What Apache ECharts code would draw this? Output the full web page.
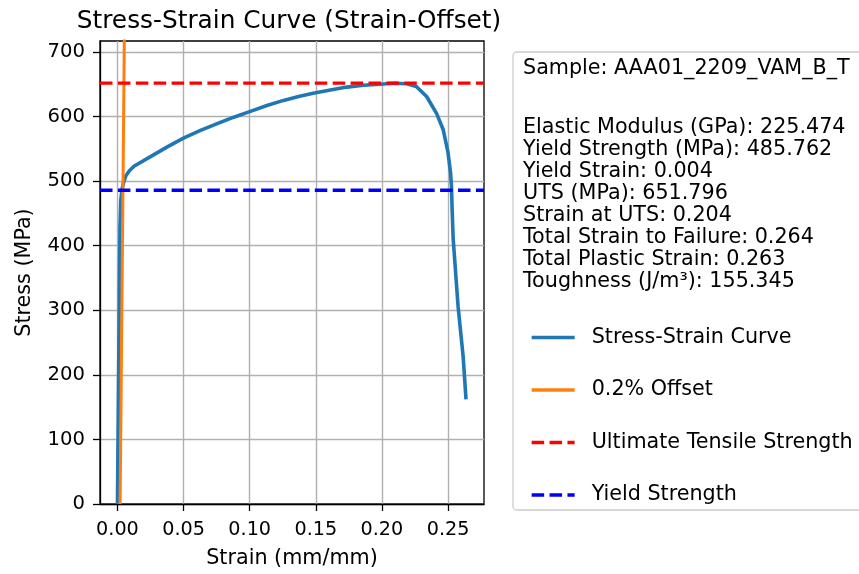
<!DOCTYPE html>
<html>
<head>
<meta charset="utf-8">
<script src="https://cdn.jsdelivr.net/npm/echarts@6/dist/echarts.min.js"></script>
<style>
html,body{margin:0;padding:0;background:#fff;}
#chart{width:859px;height:574px;}
</style>
</head>
<body>
<div id="chart"></div>
<script>
// ---- data ----
const strain = [0, 0.0010, 0.0019, 0.0025, 0.0035, 0.0045, 0.0063, 0.0090, 0.0125, 0.025, 0.0377, 0.0503, 0.0628, 0.0754, 0.088, 0.1005, 0.113, 0.1256, 0.137, 0.148, 0.161, 0.1735, 0.186, 0.1986, 0.209, 0.2187, 0.226, 0.2338, 0.2413, 0.2463, 0.25, 0.2519, 0.2526, 0.2531, 0.2539, 0.2576, 0.2614, 0.2636];
const stress = [0, 225, 430, 470, 488, 497, 508, 516, 523, 538, 553, 567, 578.5, 589, 599, 608, 617, 625, 631, 636, 641, 645.6, 648.5, 650, 651.5, 650.7, 646.5, 631, 605, 580, 544, 513, 492, 456, 410, 306, 229, 162];
const offsetStrain = [0.002, 0.0055];
const offsetStress = [0, 790];
const utsValue = 651.796;
const yieldValue = 485.762;
const xRange = [-0.0132, 0.2772];
const yRange = [0, 716.98];
const xTicks = [0, 0.05, 0.10, 0.15, 0.20, 0.25];
const yTicks = [0, 100, 200, 300, 400, 500, 600, 700];
const seriesNames = ['Stress-Strain Curve', '0.2% Offset', 'Ultimate Tensile Strength', 'Yield Strength'];
const sampleLine = 'Sample: AAA01_2209_VAM_B_T';
const infoLines = [
  'Elastic Modulus (GPa): 225.474',
  'Yield Strength (MPa): 485.762',
  'Yield Strain: 0.004',
  'UTS (MPa): 651.796',
  'Strain at UTS: 0.204',
  'Total Strain to Failure: 0.264',
  'Total Plastic Strain: 0.263',
  'Toughness (J/m³): 155.345'
];

const FONT = 'DejaVu Sans';
const chart = echarts.init(document.getElementById('chart'), null, {renderer: 'canvas'});

const curveData = strain.map((s, i) => [s, stress[i]]);
const offsetData = offsetStrain.map((s, i) => [s, offsetStress[i]]);
const utsData = [[xRange[0], utsValue], [xRange[1], utsValue]];
const yieldData = [[xRange[0], yieldValue], [xRange[1], yieldValue]];

const option = {
  animation: false,
  backgroundColor: '#fff',
  title: {
    text: 'Stress-Strain Curve (Strain-Offset)',
    left: 289, top: 9, textAlign: 'center', padding: 0,
    textStyle: {fontFamily: FONT, fontSize: 24.8, fontWeight: 'normal', color: '#000'}
  },
  grid: {left: 100, top: 41, width: 384, height: 464, show: true, borderColor: '#000', borderWidth: 1.3, backgroundColor: 'rgba(0,0,0,0)'},
  xAxis: {
    type: 'value', min: xRange[0], max: xRange[1],
    name: 'Strain (mm/mm)', nameLocation: 'middle', nameGap: 44,
    nameTextStyle: {fontFamily: FONT, fontSize: 20.7, color: '#000'},
    axisLine: {show: true, onZero: false, lineStyle: {color: '#000', width: 1.3}},
    axisTick: {show: true, length: 7, lineStyle: {color: '#000', width: 1.3}, customValues: xTicks},
    axisLabel: {customValues: xTicks, fontFamily: FONT, fontSize: 19.2, color: '#000', margin: 17, formatter: v => v.toFixed(2)},
    splitLine: {show: true, lineStyle: {color: '#b0b0b0', width: 1.4}}
  },
  yAxis: {
    type: 'value', min: yRange[0], max: yRange[1],
    name: 'Stress (MPa)', nameLocation: 'middle', nameGap: 65,
    nameTextStyle: {fontFamily: FONT, fontSize: 20.7, color: '#000'},
    axisLine: {show: true, onZero: false, lineStyle: {color: '#000', width: 1.3}},
    axisTick: {show: true, length: 7, lineStyle: {color: '#000', width: 1.3}, customValues: yTicks},
    axisLabel: {customValues: yTicks, fontFamily: FONT, fontSize: 19.6, color: '#000', margin: 15, formatter: v => String(Math.round(v))},
    splitLine: {show: true, lineStyle: {color: '#b0b0b0', width: 1.4}}
  },
  legend: {
    orient: 'vertical', left: 525, top: 322,
    itemWidth: 43, itemHeight: 14, itemGap: 31.5,
    data: seriesNames,
    itemStyle: {opacity: 0},
    lineStyle: {width: 3.3},
    textStyle: {fontFamily: FONT, fontSize: 20.7, color: '#000', padding: [0, 0, 0, 12]},
    selectedMode: false
  },
  graphic: [
    {type: 'rect', z: -1, shape: {x: 513, y: 52, width: 500, height: 458, r: 4}, style: {fill: '#fff', stroke: '#cccccc', lineWidth: 1.3}},
    {type: 'text', left: 523, top: 58, style: {text: sampleLine, fontFamily: FONT, fontSize: 20.7, fill: '#000'}},
    {type: 'text', left: 523, top: 117, style: {text: infoLines.join('\n'), fontFamily: FONT, fontSize: 20.7, lineHeight: 21.9, fill: '#000'}}
  ],
  series: [
    {name: seriesNames[0], type: 'line', data: curveData, symbol: 'none', showSymbol: false, clip: true,
     lineStyle: {color: '#1f77b4', width: 3.6, join: 'round'}, itemStyle: {color: '#1f77b4'}},
    {name: seriesNames[1], type: 'line', data: offsetData, symbol: 'none', showSymbol: false, clip: true,
     lineStyle: {color: '#ff7f0e', width: 3}, itemStyle: {color: '#ff7f0e'}},
    {name: seriesNames[2], type: 'line', data: utsData, symbol: 'none', showSymbol: false, clip: true,
     lineStyle: {color: '#ff0000', width: 3.4, type: [12.5, 5.4]}, itemStyle: {color: '#ff0000'}},
    {name: seriesNames[3], type: 'line', data: yieldData, symbol: 'none', showSymbol: false, clip: true,
     lineStyle: {color: '#0000ff', width: 3.4, type: [12.5, 5.4]}, itemStyle: {color: '#0000ff'}}
  ]
};
chart.setOption(option);
</script>
</body>
</html>
